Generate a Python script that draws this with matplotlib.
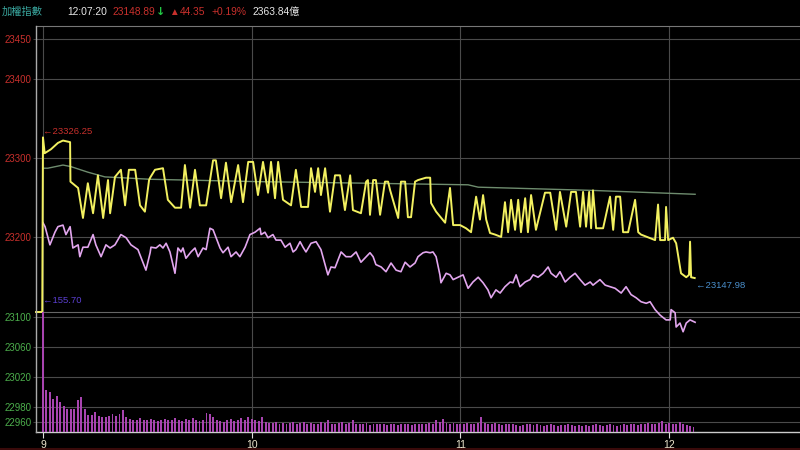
import matplotlib
matplotlib.use("Agg")
import matplotlib.pyplot as plt

plt.rcParams['font.family'] = ['Liberation Sans', 'Noto Sans CJK TC', 'DejaVu Sans']

# ---- data (minutes after 09:00) ----
yel_t = [-2.0, -0.2, 0.0, 0.5, 2.3, 4.3, 5.75, 7.8, 7.9, 10.1, 11.5, 12.9, 14.4, 15.8, 17.3, 18.7, 19.3,
         20.7, 22.4, 23.6, 24.7, 26.5, 27.9, 29.3, 30.5, 30.8, 32.2, 34.5, 35.9, 37.95, 39.7, 40.8,
         42.3, 43.7, 45.1, 46.9, 48.9, 49.7, 51.2, 52.6, 54.1, 56.1, 57.5, 59.0, 60.4, 61.8, 63.25,
         64.7, 65.55, 66.7, 67.6, 69.0, 71.3, 72.7, 74.2, 76.2, 77.05, 78.2, 79.1, 79.9, 81.1, 82.5,
         83.95, 85.4, 86.8, 88.3, 89.1, 91.4, 92.9, 93.4, 94.0, 94.9, 95.7, 96.9, 98.3, 99.2, 99.8,
         102.1, 102.9, 104.1, 104.9, 105.8, 106.95, 107.8, 110.1, 111.3, 111.55, 113.0, 115.6, 117.0,
         117.9, 119.9, 121.6, 123.05, 124.5, 125.6, 126.5, 127.4, 128.5, 129.95, 131.7, 132.8, 133.7,
         134.55, 135.7, 136.6, 137.4, 138.6, 139.4, 140.3, 141.7, 144.3, 145.8, 147.5, 148.6, 150.4,
         151.8, 153.2, 154.4, 155.25, 156.1, 157.0, 157.55, 158.1, 159.0, 161.0, 163.0, 163.9, 164.7,
         165.9, 166.75, 168.2, 170.2, 171.1, 171.9, 175.95, 176.8, 177.4, 178.8, 179.1, 179.7, 181.1,
         182.0, 183.4, 184.9, 185.7, 186.0, 186.3, 187.33]
yel_v = [23105, 23105, 23326, 23306, 23311, 23319, 23322, 23320, 23270, 23262, 23224, 23268, 23230, 23278,
         23224, 23272, 23230, 23276, 23285, 23240, 23285, 23285, 23240, 23232, 23272, 23275, 23285,
         23287, 23247, 23237, 23237, 23291, 23237, 23285, 23240, 23240, 23297, 23297, 23249, 23294,
         23244, 23291, 23244, 23295, 23295, 23253, 23295, 23256, 23295, 23249, 23295, 23247, 23240,
         23285, 23238, 23238, 23287, 23257, 23287, 23253, 23287, 23232, 23278, 23278, 23234, 23278,
         23234, 23230, 23270, 23272, 23228, 23272, 23272, 23228, 23270, 23270, 23259, 23224, 23270,
         23270, 23225, 23225, 23270, 23272, 23275, 23275, 23243, 23232, 23218, 23262, 23215, 23215,
         23211, 23206, 23251, 23222, 23253, 23222, 23205, 23203, 23200, 23244, 23206, 23247, 23209,
         23247, 23206, 23249, 23206, 23253, 23209, 23256, 23256, 23209, 23257, 23213, 23257, 23257,
         23213, 23257, 23213, 23257, 23211, 23259, 23211, 23211, 23251, 23209, 23251, 23251, 23206,
         23206, 23247, 23206, 23203, 23196, 23241, 23196, 23196, 23238, 23196, 23199, 23192, 23154,
         23149, 23152, 23194, 23149, 23147.98]

pur_t = [0.0, 0.6, 2.0, 3.45, 4.3, 5.75, 6.6, 7.8, 8.6, 10.1, 10.6, 11.5, 12.9, 14.4, 15.2, 16.7, 18.1,
         19.3, 20.7, 22.4, 23.9, 25.3, 27.3, 29.6, 30.8, 31.05, 32.5, 33.6, 34.5, 35.4, 36.5, 37.95,
         38.8, 39.7, 40.25, 41.1, 42.55, 43.7, 44.6, 46.0, 46.9, 48.0, 48.9, 50.9, 51.75, 53.2, 54.05,
         55.5, 56.6, 58.1, 59.5, 60.95, 62.4, 62.7, 63.8, 64.7, 66.1, 67.0, 68.4, 69.6, 71.0, 71.9,
         72.7, 73.9, 74.75, 75.6, 77.05, 78.5, 79.9, 81.9, 82.8, 83.95, 85.7, 87.1, 88.55, 90.0, 91.4,
         92.9, 94.0, 94.9, 95.7, 97.2, 98.6, 100.05, 101.5, 102.9, 104.1, 105.5, 106.95, 107.8, 109.25,
         110.1, 111.3, 112.1, 113.0, 114.1, 114.4, 115.9, 117.0, 117.9, 119.3, 120.75, 122.2, 123.6,
         125.1, 126.5, 127.9, 128.8, 130.2, 131.4, 132.8, 134.3, 135.1, 136.0, 137.1, 138.6, 140.0,
         140.9, 142.3, 143.75, 145.2, 146.05, 147.5, 148.6, 150.1, 151.5, 152.95, 154.4, 155.8, 157.3,
         158.1, 160.1, 161.6, 163.0, 164.45, 166.2, 167.6, 169.05, 170.5, 171.9, 173.4, 174.5, 175.95,
         177.4, 179.1, 180.3, 180.55, 181.7, 182.0, 183.1, 184.0, 184.9, 186.0, 187.45]
pur_v = [23218, 23213, 23190, 23206, 23213, 23215, 23203, 23213, 23186, 23190, 23175, 23187, 23187, 23203,
         23190, 23175, 23190, 23186, 23190, 23203, 23199, 23190, 23184, 23158, 23180, 23187, 23186,
         23190, 23186, 23192, 23181, 23154, 23186, 23181, 23186, 23173, 23181, 23186, 23175, 23186,
         23184, 23211, 23209, 23186, 23180, 23187, 23175, 23181, 23175, 23187, 23203, 23206, 23211,
         23203, 23206, 23199, 23203, 23196, 23196, 23187, 23192, 23181, 23184, 23194, 23187, 23181,
         23192, 23194, 23184, 23152, 23162, 23161, 23181, 23175, 23175, 23181, 23168, 23175, 23180,
         23175, 23165, 23162, 23156, 23167, 23158, 23156, 23168, 23162, 23167, 23175, 23180, 23181,
         23180, 23181, 23175, 23152, 23142, 23154, 23152, 23146, 23149, 23152, 23135, 23143, 23149,
         23142, 23133, 23123, 23133, 23129, 23137, 23143, 23142, 23152, 23137, 23143, 23146, 23152,
         23149, 23154, 23162, 23154, 23149, 23156, 23143, 23149, 23154, 23146, 23139, 23143, 23139,
         23146, 23139, 23137, 23135, 23129, 23137, 23127, 23123, 23118, 23116, 23118, 23108, 23101,
         23095, 23095, 23108, 23104, 23086, 23091, 23080, 23091, 23095, 23092]

ma_t = [0.0, 1.4, 5.75, 8.05, 12.9, 17.8, 22.4, 30.8, 61.8, 93.4, 122.2, 125.1, 157.3, 187.45]
ma_v = [23287, 23287, 23291, 23289, 23282, 23276, 23275, 23273, 23270, 23268, 23266, 23263, 23259, 23254]

vol = [155.7, 54, 52, 43, 47, 39, 34, 30, 30, 30,
       41, 45, 30, 22, 22, 26, 21, 20, 20, 21,
       23, 21, 23, 28, 20, 17, 15, 16, 18, 15,
       16, 17, 15, 14, 16, 17, 15, 16, 18, 16,
       14, 17, 16, 18, 15, 14, 16, 25, 23, 20,
       15, 14, 13, 15, 17, 14, 16, 18, 15, 19,
       17, 15, 14, 20, 13, 12, 12, 13, 11, 12,
       11, 12, 13, 10, 12, 13, 11, 12, 10, 11,
       13, 12, 15, 11, 10, 12, 13, 11, 12, 15,
       10, 11, 10, 12, 9, 11, 10, 10, 11, 9,
       10, 11, 9, 10, 11, 10, 9, 10, 11, 10,
       11, 12, 10, 16, 13, 17, 12, 11, 12, 10,
       11, 10, 12, 10, 11, 12, 19, 12, 10, 11,
       12, 11, 9, 10, 11, 10, 9, 8, 9, 10,
       11, 9, 10, 9, 8, 9, 10, 9, 8, 9,
       9, 10, 9, 8, 9, 8, 9, 8, 9, 11,
       9, 8, 9, 10, 9, 8, 9, 10, 9, 11,
       10, 9, 11, 10, 12, 11, 10, 12, 14, 11,
       12, 10, 11, 13, 10, 9, 8, 7]
vol_t = list(range(len(vol)))

top_ticks = [23200, 23300, 23400, 23450]
low_ticks = [22960, 22980, 23020, 23060, 23100]
x_ticks = [0, 60, 120, 180]
x_labels = ['9', '10', '11', '12']

BG = 'black'
GRID = '#4a4a4a'
RED = '#c8302c'
GREEN = '#4cae4c'

fig = plt.figure(figsize=(8, 4.5), dpi=100, facecolor=BG)
L = 36 / 800
ax_lo = fig.add_axes([L, 18 / 450, 1 - L, 120 / 450], facecolor=BG)
ax_top = fig.add_axes([L, 138 / 450, 1 - L, 286 / 450], facecolor='none')
ax_bar = ax_lo.twinx()

xlim = (-2.0, 217.6)
for a in (ax_top, ax_lo, ax_bar):
    a.set_xlim(*xlim)
    for s in a.spines.values():
        s.set_visible(False)

# top panel
ax_top.set_ylim(23105, 23467)
ax_top.set_yticks(top_ticks)
ax_top.set_yticklabels([str(v) for v in top_ticks])
ax_top.tick_params(axis='y', color=GRID, labelcolor=RED, labelsize=7.0, length=2, width=0.6, pad=1)
ax_top.set_xticks(x_ticks)
ax_top.tick_params(axis='x', length=0, labelbottom=False)
ax_top.grid(True, color=GRID, linewidth=0.8)
ax_top.spines['top'].set_visible(True)
ax_top.spines['top'].set_color('#777777')
ax_top.spines['bottom'].set_visible(True)
ax_top.spines['bottom'].set_color('#666666')
ax_top.spines['bottom'].set_linewidth(0.8)

ax_top.plot(ma_t, ma_v, color='#6e8c6e', lw=1.0, zorder=3)
ax_top.plot(pur_t, pur_v, color='#e2a6ee', lw=1.2, zorder=4, clip_on=False)
ax_top.plot(yel_t, yel_v, color='#f2f060', lw=1.4, zorder=5, clip_on=False)

ax_top.annotate('←23326.25', xy=(0.0, 23328), color=RED, fontsize=6.8, va='bottom', ha='left')
ax_top.annotate('←155.70', xy=(0.0, 23120), color='#5b3fd0', fontsize=6.8, va='center', ha='left')
ax_top.annotate('←23147.98', xy=(187.6, 23138), color='#4a8fcc', fontsize=6.8, va='center', ha='left')

# lower panel
ax_lo.set_ylim(22947, 23106.6)
ax_lo.set_yticks(low_ticks)
ax_lo.set_yticklabels([str(v) for v in low_ticks])
ax_lo.tick_params(axis='y', color=GRID, labelcolor=GREEN, labelsize=7.0, length=2, width=0.6, pad=1)
ax_lo.set_xticks(x_ticks)
ax_lo.set_xticklabels(x_labels)
ax_lo.tick_params(axis='x', colors='#dddddd', labelcolor='#eee8d0', labelsize=7.5, length=4, width=0.8, pad=2)
ax_lo.grid(True, color=GRID, linewidth=0.8)
ax_lo.spines['bottom'].set_visible(True)
ax_lo.spines['bottom'].set_color('#cccccc')
ax_lo.spines['bottom'].set_linewidth(1.0)

ax_bar.set_ylim(0, 155.7)
ax_bar.set_yticks([])
ax_bar.bar(vol_t, vol, width=0.55, color='#a844b0', linewidth=0, zorder=2)

# left frame line
fig.add_artist(plt.Line2D([L, L], [18 / 450, 424 / 450], color='#aaaaaa', lw=1.0, transform=fig.transFigure))

# header
hy = 1 - 12 / 450
def htxt(xp, s, c, fs=7.4, **kw):
    fig.text(xp / 800, hy, s, color=c, fontsize=fs, va='center', ha='left', **kw)
htxt(2, '加權指數', '#3aa8a0')
htxt(67, '12:07:20', '#e8e8e8')
htxt(112, '23148.89', RED)
htxt(156, '↓', '#22c844', 8.0, fontweight='bold', family='DejaVu Sans')
htxt(169, '▲', RED, 7.0)
htxt(180, '44.35', RED)
htxt(212, '+0.19%', RED)
htxt(253, '2363.84億', '#e8e8e8')

fig.add_artist(plt.Line2D([0, 1], [1.5 / 450, 1.5 / 450], color='#3a0a0a', lw=1.5, transform=fig.transFigure))

fig.savefig('out.png', dpi=100, facecolor=BG)
